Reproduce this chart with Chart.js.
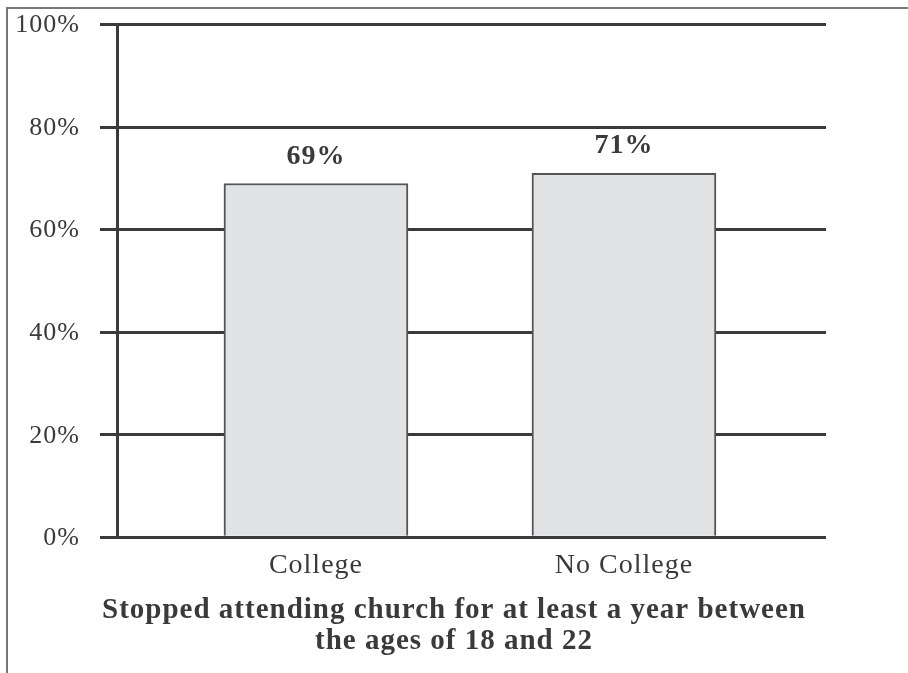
<!DOCTYPE html>
<html>
<head>
<meta charset="utf-8">
<script src="https://cdn.jsdelivr.net/npm/chart.js@4"></script>
<style>
    html, body { margin: 0; padding: 0; background: #fff; }
    #frame {
        position: absolute;
        left: 6px; top: 7px; right: 0; bottom: 0;
        border-top: 2px solid #777;
        border-left: 2px solid #777;
    }
    #wrap { position: absolute; left: 0; top: 0; width: 908px; height: 673px; }
</style>
</head>
<body>
<div id="frame"></div>
<div id="wrap"><canvas id="churchChart" width="908" height="673"></canvas></div>
<script>
const categories = ["College", "No College"];
const stoppedAttending = [69, 71];
const yTicks = [0, 20, 40, 60, 80, 100];
const titleLines = [
    "Stopped attending church for at least a year between",
    "the ages of 18 and 22"
];

const ink = "#3a3a3a";
const serif = "'Liberation Serif', 'Times New Roman', serif";

// Slightly looser tracking for all text on the canvas
const tracking = {
    id: "tracking",
    beforeUpdate(chart) { chart.ctx.letterSpacing = "1px"; },
    beforeDraw(chart) { chart.ctx.letterSpacing = "1px"; }
};

// Percent labels above each bar
const valueLabels = {
    id: "valueLabels",
    afterDatasetsDraw(chart) {
        const c = chart.ctx;
        const meta = chart.getDatasetMeta(0);
        c.save();
        c.fillStyle = ink;
        c.font = "bold 28px " + serif;
        c.textAlign = "center";
        c.textBaseline = "alphabetic";
        meta.data.forEach((bar, i) => {
            c.fillText(stoppedAttending[i] + "%", bar.x, bar.y - 20);
        });
        c.restore();
    }
};

const ctx = document.getElementById("churchChart").getContext("2d");

new Chart(ctx, {
    type: "bar",
    data: {
        datasets: [{
            data: categories.map((c, i) => ({ x: i + 1, y: stoppedAttending[i] })),
            backgroundColor: "#e1e2e4",
            borderColor: "#555",
            borderWidth: 2,
            barThickness: 184
        }]
    },
    options: {
        responsive: false,
        animation: false,
        layout: { padding: { left: 0, right: 0, top: 2, bottom: 16 } },
        plugins: {
            legend: { display: false },
            tooltip: { enabled: false },
            title: {
                display: true,
                position: "bottom",
                text: titleLines,
                color: ink,
                font: { family: serif, size: 29, weight: "bold", lineHeight: 1.07 },
                padding: { top: 8, bottom: 0 }
            }
        },
        scales: {
            x: {
                type: "linear",
                offset: false,
                min: 0.354,
                max: 2.656,
                grid: { display: false },
                border: { display: false },
                afterBuildTicks: (scale) => {
                    scale.ticks = categories.map((c, i) => ({ value: i + 1 }));
                },
                ticks: {
                    color: ink,
                    font: { family: serif, size: 28 },
                    padding: 4,
                    maxRotation: 0,
                    callback: (v) => categories[v - 1]
                }
            },
            y: {
                min: 0,
                max: 100,
                afterFit: (scale) => { scale.width = 117; },
                afterBuildTicks: (scale) => {
                    scale.ticks = yTicks.map(v => ({ value: v }));
                },
                grid: {
                    color: ink,
                    lineWidth: 3,
                    drawTicks: true,
                    tickLength: 17,
                    tickColor: ink
                },
                border: { display: true, color: ink, width: 3 },
                ticks: {
                    color: ink,
                    font: { family: serif, size: 26, lineHeight: 0.35 },
                    padding: 20,
                    labelOffset: 1,
                    callback: (v) => v + "%"
                }
            },
            // empty axis that holds the white margin on the right
            yRight: {
                position: "right",
                min: 0,
                max: 100,
                afterFit: (scale) => { scale.width = 82; },
                grid: { display: false },
                border: { display: false },
                ticks: { display: false }
            }
        }
    },
    plugins: [tracking, valueLabels]
});
</script>
</body>
</html>
